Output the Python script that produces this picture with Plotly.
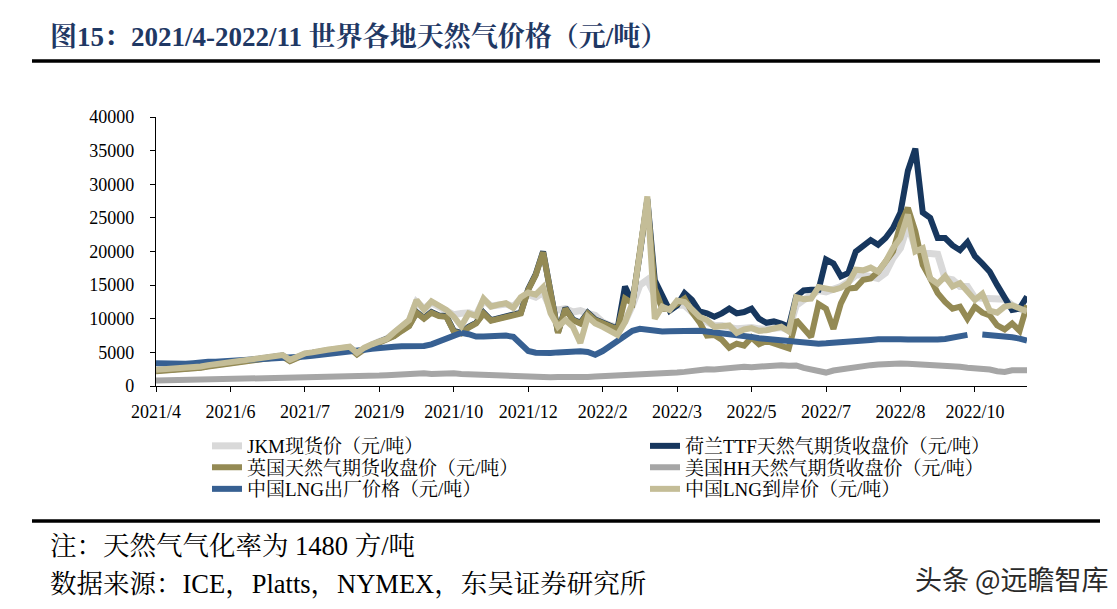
import plotly.graph_objects as go

# ---------------- data (values in 元/吨), sampled on an evenly spaced trading-day index ----------------
tick_labels = ["2021/4", "2021/6", "2021/7", "2021/9", "2021/10", "2021/12",
               "2022/2", "2022/3", "2022/5", "2022/7", "2022/8", "2022/10"]
tick_index = [0, 10, 20, 30, 40, 50, 60, 70, 80, 90, 100, 110]

jkm = [2300, 2350, 2400, 2500, 2550, 2650, 2800, 3000, 3150, 3300, 3500,
       3650, 3850, 3950, 4050, 4200, 4400, 4500, 3800, 4400, 4750,
       4900, 5200, 5300, 5450, 5600, 5750, 4800, 5600, 6100, 6600,
       7000, 7900, 8800, 9700, 12500, 11500, 12400, 11800, 11400, 10600,
       10800, 10900, 10500, 12800, 11900, 12000, 12200, 11800, 13000, 13600,
       13200, 13900, 11500, 11300, 11500, 11000, 11200, 10800, 10500, 9500,
       9000, 8800, 9600, 12000, 15000, 15800, 13500, 12000, 11500, 12000,
       12000, 11000, 10000, 9500, 9000, 9000, 8800, 8500, 8600, 8700,
       8500, 8400, 8600, 8700, 8300, 12000, 12800, 13500, 14200, 14000,
       14300, 14800, 15500, 16500, 16500, 16200, 16000, 16800, 19000, 20500,
       24000, 20500, 19700, 19700, 19600, 16000, 15800, 14800, 14800, 13100,
       13000, 13000, 13000, 12900, 12000, 11500, 11000]

ttf = [2300, 2350, 2400, 2500, 2550, 2650, 2800, 3000, 3150, 3300, 3500,
       3650, 3850, 3950, 4050, 4200, 4400, 4500, 3800, 4400, 4750,
       4900, 5200, 5300, 5450, 5600, 5750, 4800, 5600, 6100, 6600,
       6900, 7500, 8300, 9000, 11000, 10100, 11000, 10500, 10400, 8200,
       7900, 8800, 9400, 10900, 9800, 10100, 10400, 10600, 10900, 14400,
       16600, 20000, 14100, 8000, 11600, 9900, 9400, 10900, 9900, 9500,
       9100, 8500, 14800, 12500, 19700, 27800, 15700, 13200, 11200, 12000,
       13800, 12800, 11100, 10800, 10300, 10800, 11500, 10800, 11000, 11500,
       10000, 9400, 9600, 9300, 8800, 13300, 14200, 14300, 14300, 18800,
       18200, 16300, 16800, 20000, 20900, 21700, 21000, 22000, 23500, 25800,
       32000, 35300, 25800, 25000, 22000, 22000, 20900, 20200, 21400, 19300,
       18200, 17000, 15000, 13000, 11300, 11500, 13300, 12800]

nbp = [2200, 2250, 2300, 2400, 2450, 2550, 2700, 2900, 3050, 3200, 3400,
       3550, 3750, 3850, 3950, 4100, 4300, 4400, 3700, 4300, 4650,
       4800, 5100, 5200, 5350, 5500, 5650, 4700, 5500, 6000, 6500,
       6800, 7400, 8200, 8900, 10900, 10000, 10900, 10400, 10300, 8100,
       7800, 8700, 9300, 10800, 9700, 10000, 10300, 10500, 10800, 14300,
       16500, 19900, 14000, 7900, 11500, 9800, 9300, 10800, 9800, 9400,
       9000, 8400, 13000, 12300, 20000, 27500, 14500, 11500, 11500, 12300,
       13000, 11000, 9500, 7500, 7600, 6900, 5700, 6300, 6000, 7200,
       6200, 6700, 6400, 6000, 5600, 9800, 8500, 7300, 12200, 11500,
       8500, 12300, 14500, 14600, 15800, 16000, 17000, 18500, 20000, 24000,
       26500, 23000, 18000, 16000, 13800, 12500, 11500, 11800, 10000, 11800,
       10900, 10500, 9000, 8400, 9300, 8200, 12000, 12800]

hh = [800, 820, 850, 870, 880, 900, 920, 930, 950, 960, 980,
      1000, 1000, 1020, 1050, 1080, 1100, 1120, 1140, 1160, 1200,
      1220, 1250, 1280, 1300, 1330, 1350, 1380, 1400, 1450, 1550,
      1600, 1700, 1800, 1750, 1850, 1900, 1800, 1850, 2050, 1900,
      1800, 1750, 1700, 1650, 1600, 1550, 1500, 1450, 1350, 1300,
      1300, 1250, 1300, 1350, 1300, 1250, 1300, 1350, 1400, 1450,
      1500, 1500, 1550, 1600, 1650, 1600, 1700, 1800, 1900, 2000,
      2100, 2250, 2400, 2500, 2450, 2600, 2650, 2700, 2850, 2800,
      2900, 2950, 3050, 3100, 3000, 3050, 2700, 2400, 2100, 2000,
      2300, 2500, 2650, 2800, 2950, 3100, 3200, 3300, 3250, 3350,
      3300, 3250, 3150, 3100, 3200, 3000, 2900, 2850, 2700, 2650,
      2550, 2450, 2200, 2100, 2350, 2300, 2350]

lng_plant = [3370, 3300, 3300, 3250, 3300, 3400, 3550, 3600, 3600, 3650, 3700,
             3750, 3800, 3850, 3900, 4000, 4050, 4100, 4200, 4300, 4400,
             4500, 4600, 4700, 4800, 4900, 5050, 5200, 5400, 5550, 5700,
             5800, 5850, 5900, 5850, 5850, 5950, 6200, 6600, 6900, 7300,
             7900, 7700, 7350, 7350, 7400, 7450, 7500, 7300, 6200, 5200,
             4950, 4850, 4900, 5000, 5100, 5200, 5150, 5050, 4650, 5200,
             6000, 6700, 7500, 8200, 8500, 8300, 8100, 8100, 8150, 8200,
             8250, 8250, 8200, 8100, 8000, 7900, 7750, 7600, 7450, 7300,
             7100, 7000, 6900, 6700, 6500, 6400, 6350, 6300, 6300, 6350,
             6400, 6450, 6500, 6600, 6750, 6850, 6950, 7000, 7000, 6950,
             6900, 6850, 6850, 6850, 6900, 7000, 7200, 7350, 7600, None,
             7650, 7600, 7500, 7400, 7250, 7050, 6750]

lng_landed = [2400, 2450, 2500, 2600, 2650, 2750, 2900, 3100, 3250, 3400, 3600,
              3750, 3950, 4050, 4150, 4300, 4500, 4600, 3900, 4500, 4850,
              5000, 5300, 5400, 5550, 5700, 5850, 4900, 5700, 6200, 6700,
              7000, 8000, 8900, 9800, 12800, 11300, 12600, 12000, 11300, 10300,
              8900, 10800, 10400, 13000, 11800, 12100, 12300, 11600, 13200, 13900,
              13600, 14700, 10800, 8800, 9800, 8800, 6400, 10300, 9300, 8800,
              8300, 7600, 9500, 12300, 19800, 28200, 10000, 11800, 11300, 12700,
              12500, 11500, 10300, 9800, 8800, 8900, 9000, 7900, 8400, 8600,
              8200, 8300, 8500, 8800, 8100, 13200, 12900, 13000, 14700, 14400,
              14300, 14600, 15300, 17300, 17200, 17600, 17000, 18500, 20500, 22000,
              25500, 20000, 20500, 16000, 15200, 16300, 14800, 15300, 14200, 12800,
              13700, 11200, 10900, 11800, 12000, 11500, 11100, 9900]

x_index = list(range(len(jkm)))

# plot area in pixels
L, R, T, B = 156, 1027, 117, 386
W, H = 1117, 609


def px(xp):
    return (xp - L) / (R - L)


def py(yp):
    return (B - yp) / (B - T)


SERIF = "Times New Roman, Liberation Serif, Noto Serif CJK SC, Noto Sans CJK SC, serif"

# name, values, colour, width, legend id, legend position (text-left px, row-centre px)
series = [
    ("JKM现货价（元/吨）", jkm, "#D9D9D9", 7, "legend", (249, 446)),
    ("荷兰TTF天然气期货收盘价（元/吨）", ttf, "#17375E", 6, "legend2", (687, 446)),
    ("英国天然气期货收盘价（元/吨）", nbp, "#948A54", 6, "legend3", (249, 467.5)),
    ("美国HH天然气期货收盘价（元/吨）", hh, "#A6A6A6", 6, "legend4", (687, 467.5)),
    ("中国LNG出厂价格（元/吨）", lng_plant, "#376092", 6, "legend5", (249, 489)),
    ("中国LNG到岸价（元/吨）", lng_landed, "#C4BD97", 6, "legend6", (687, 489)),
]

fig = go.Figure()
legend_layout = {}
for name, vals, color, w, lg, (lx, ly) in series:
    fig.add_trace(go.Scatter(
        x=x_index, y=vals, mode="lines", name=name, legend=lg,
        line=dict(color=color, width=w, shape="linear"),
        connectgaps=False, hoverinfo="skip"))
    legend_layout[lg] = dict(x=px(lx - 42), y=py(ly), xanchor="left", yanchor="middle",
                             orientation="v", font=dict(size=19, family=SERIF, color="black"),
                             itemwidth=30, bgcolor="rgba(0,0,0,0)", borderwidth=0)

fig.update_layout(
    width=W, height=H,
    margin=dict(l=L, r=W - R, t=T, b=H - B, pad=0),
    paper_bgcolor="white", plot_bgcolor="white",
    font=dict(family=SERIF, size=18, color="black"),
    showlegend=True,
    xaxis=dict(range=[0, len(jkm) - 1], tickmode="array", tickvals=tick_index,
               ticktext=tick_labels, showline=True, linecolor="black", linewidth=1.3,
               ticks="outside", ticklen=5, tickcolor="black", showgrid=False,
               zeroline=False, ticklabelstandoff=4, tickfont=dict(size=18, family=SERIF)),
    yaxis=dict(range=[0, 40000], tickmode="array",
               tickvals=[0, 5000, 10000, 15000, 20000, 25000, 30000, 35000, 40000],
               ticktext=["0", "5000", "10000", "15000", "20000", "25000", "30000", "35000", "40000"],
               showline=True, linecolor="black", linewidth=1.3, ticks="outside",
               ticklen=5, tickcolor="black", showgrid=False, zeroline=False,
               ticklabelstandoff=12, tickfont=dict(size=18, family=SERIF)),
    **legend_layout,
)

# title and rules
fig.add_annotation(text="<b>图15：2021/4-2022/11 世界各地天然气价格（元/吨）</b>",
                   x=px(48), y=py(36), xref="paper", yref="paper",
                   xanchor="left", yanchor="middle", showarrow=False,
                   font=dict(size=27, family=SERIF, color="#1F3864"))
fig.add_shape(type="line", xref="paper", yref="paper",
              x0=px(32), x1=px(1100), y0=py(61), y1=py(61),
              line=dict(color="black", width=3.5))
fig.add_shape(type="line", xref="paper", yref="paper",
              x0=px(32), x1=px(1100), y0=py(521), y1=py(521),
              line=dict(color="black", width=3.5))

fig.add_annotation(text="注：天然气气化率为 1480 方/吨",
                   x=px(48), y=py(546), xref="paper", yref="paper",
                   xanchor="left", yanchor="middle", showarrow=False,
                   font=dict(size=26.5, family=SERIF, color="black"))
fig.add_annotation(text="数据来源：ICE，Platts，NYMEX，东吴证券研究所",
                   x=px(48), y=py(584), xref="paper", yref="paper",
                   xanchor="left", yanchor="middle", showarrow=False,
                   font=dict(size=26.5, family=SERIF, color="black"))
fig.add_annotation(text="头条 @远瞻智库",
                   x=px(1111), y=py(578), xref="paper", yref="paper",
                   xanchor="right", yanchor="middle", showarrow=False,
                   font=dict(size=27, family="Noto Sans CJK SC, sans-serif", color="#2a2a2a"))

fig.write_html("out.html", config={"displayModeBar": False},
               post_script="document.body.style.margin='0';")
